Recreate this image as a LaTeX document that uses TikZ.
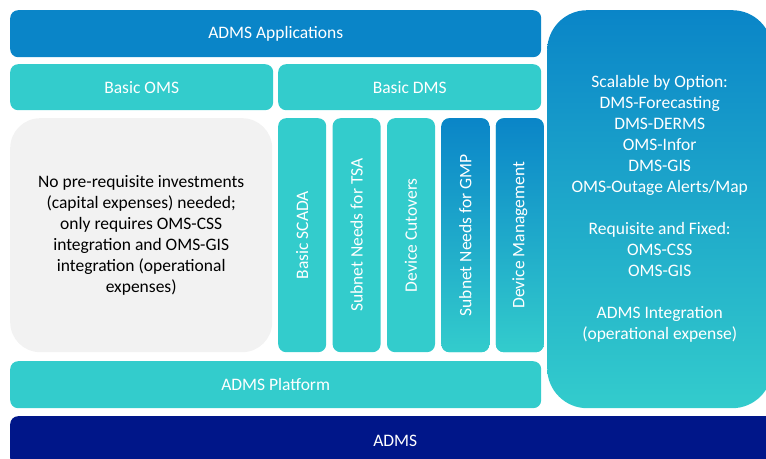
\documentclass[tikz,border=0pt]{standalone}
\usepackage{fontspec}
\setmainfont{Carlito}
\usetikzlibrary{positioning}
\definecolor{admsblue}{RGB}{10,133,200}
\definecolor{admsteal}{RGB}{51,204,204}
\definecolor{admsnavy}{RGB}{0,22,137}
\definecolor{softgray}{RGB}{242,242,242}
\tikzset{
  blk/.style={anchor=north west,rounded corners=8pt,inner sep=0pt,align=center,text=white,font=\fontsize{17.5}{21}\selectfont},
  bar/.style={blk,fill=admsteal,minimum width=531pt,minimum height=47pt},
  half/.style={blk,fill=admsteal,minimum width=263pt,minimum height=46pt},
  col/.style={blk,fill=admsteal,minimum width=48pt,minimum height=234pt},
  colfade/.style={col,top color=admsblue,bottom color=admsteal},
  coltxt/.style={rotate=90,text=white,font=\fontsize{17.5}{21}\selectfont}
}
\begin{document}
\begin{tikzpicture}[x=1pt,y=1pt]
\clip (0,0) rectangle (766,458);
% top application layer
\node[bar,fill=admsblue] (apps) at (10,448) {ADMS Applications};
\node[half] (oms) at (10,394) {Basic OMS};
\node[half] (dms) at (278,394) {Basic DMS};
% left note
\node[blk,fill=softgray,rounded corners=30pt,minimum width=262pt,minimum height=234pt,text=black] (note) at (10,340)
 {No pre-requisite investments\\(capital expenses) needed;\\only requires OMS-CSS\\integration and OMS-GIS\\integration (operational\\expenses)};
% DMS columns
\node[col] (scada) at (278,340) {};
\node[col,right=6pt of scada] (tsa) {};
\node[col,right=6pt of tsa] (cut) {};
\node[colfade,right=6pt of cut] (gmp) {};
\node[colfade,right=6pt of gmp] (devm) {};
\node[coltxt] at (scada) {Basic SCADA};
\node[coltxt] at (tsa) {Subnet Needs for TSA};
\node[coltxt] at (cut) {Device Cutovers};
\node[coltxt] at (gmp) {Subnet Needs for GMP};
\node[coltxt] at (devm) {Device Management};
% platform
\node[bar] (plat) at (10,97) {ADMS Platform};
% options panel on the right
\node[blk,rounded corners=40pt,top color=admsblue,bottom color=admsteal,minimum width=225pt,minimum height=398pt] (opt) at (547,448)
 {Scalable by Option:\\DMS-Forecasting\\DMS-DERMS\\OMS-Infor\\DMS-GIS\\OMS-Outage Alerts/Map\\[21pt]
  Requisite and Fixed:\\OMS-CSS\\OMS-GIS\\[21pt]
  ADMS Integration\\(operational expense)};
% base
\node[blk,fill=admsnavy,minimum width=770pt,minimum height=50pt] (adms) at (10,42) {ADMS};
\end{tikzpicture}
\end{document}
